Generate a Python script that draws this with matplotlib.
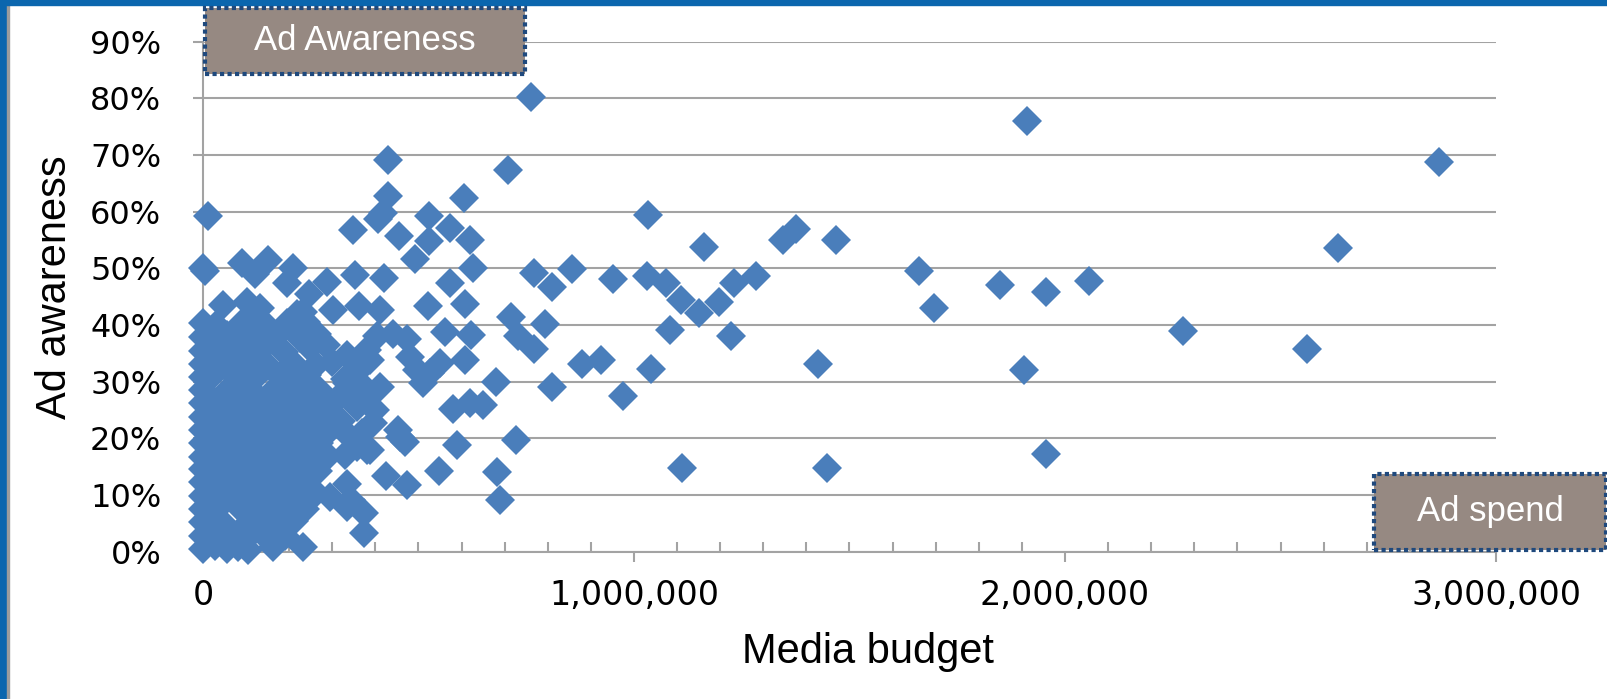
import numpy as np
import matplotlib.pyplot as plt
from matplotlib.patches import Rectangle
from matplotlib.ticker import FuncFormatter

# media budget in thousands, ad awareness in percent
small_budget_k = [
    0, 28, 55, 82, 105, 162, 232,
    0, 25, 52, 80, 108, 135, 190,
    0, 48, 110, 158, 212,
    0, 30, 86, 133, 186, 236,
    0, 55, 104, 160, 214, 262,
    0, 26, 79, 131, 186, 241,
    0, 51, 106, 154, 209, 266,
    0, 31, 82, 129, 184, 239, 291,
    0, 54, 107, 161, 214, 268,
    0, 26, 79, 134, 187, 242, 296,
    0, 52, 104, 159, 211, 266,
    0, 29, 84, 136, 191, 243, 292,
    0, 56, 109, 162, 217, 268,
    0, 24, 76, 131, 183, 241,
    0, 49, 102, 151, 209, 262,
    0, 27, 81, 136, 189, 248,
    0, 56, 116, 171, 226,
    0, 31, 92, 148, 196,
    12, 0, 5,
]
small_aware_pct = [
    0.5, 1.0, 0.4, 0.8, 0.3, 0.8, 0.9,
    2.8, 3.1, 2.6, 3.2, 2.9, 3.4, 2.7,
    5.2, 4.9, 5.3, 5.0, 5.4,
    7.6, 7.4, 7.8, 7.2, 7.7, 7.5,
    9.8, 10.2, 9.7, 10.1, 9.9, 10.4,
    12.3, 12.1, 12.4, 11.8, 12.2, 12.5,
    14.6, 14.3, 14.8, 14.4, 14.7, 14.2,
    16.8, 17.1, 16.9, 17.3, 16.7, 17.2, 16.9,
    19.2, 19.0, 19.4, 18.8, 19.3, 19.1,
    21.4, 21.7, 21.3, 21.8, 21.5, 21.2, 21.6,
    23.8, 24.1, 23.7, 24.2, 23.9, 24.3,
    26.2, 26.0, 26.4, 25.9, 26.3, 26.1, 25.8,
    28.6, 28.4, 28.8, 28.3, 28.7, 28.5,
    30.9, 31.2, 30.8, 31.3, 30.7, 31.1,
    33.2, 33.0, 33.4, 32.8, 33.3, 32.9,
    35.4, 35.7, 35.3, 35.8, 35.2, 36.0,
    37.9, 38.2, 37.7, 38.3, 37.8,
    40.3, 40.0, 40.6, 39.8, 40.4,
    59.2, 50.0, 49.5,
]

mid_budget_k = [
    90, 151, 121, 209, 195, 288, 46, 102, 132, 114,
    218, 232, 302, 411, 473, 441, 404, 381, 334, 357,
    387, 480, 497, 510, 527, 550, 619, 295, 334, 381,
    357, 394, 341, 387, 357, 300, 310, 285, 265, 245,
    238, 330, 320, 345, 370, 400, 410, 330, 334, 457,
    380,
]
mid_aware_pct = [
    51.0, 51.5, 49.0, 50.0, 47.5, 47.6, 43.5, 44.0, 43.0, 41.2,
    42.0, 42.3, 42.6, 42.6, 37.6, 38.5, 38.0, 35.6, 34.7, 31.7,
    33.9, 34.4, 32.1, 29.8, 31.6, 33.3, 26.3, 9.7, 29.8, 28.6,
    25.6, 22.7, 20.3, 17.9, 18.5, 33.5, 27.0, 36.5, 38.5, 45.5,
    40.6, 30.4, 23.0, 27.0, 21.0, 25.0, 29.0, 17.0, 7.9, 20.2,
    18.0,
]

large_budget_k = [
    2867, 2633, 2562, 2274, 2055, 1955, 1957, 1905, 1850, 1912,
    1695, 1662, 1448, 1426, 1469, 1376, 1345, 1283, 1233, 1226,
    1198, 1162, 1150, 1110, 1112, 1074, 1083, 1033, 1031, 1040,
    974, 952, 924, 879, 857, 810, 810, 793, 769, 767,
    760, 707, 731, 714, 726, 690, 683, 679, 650, 626,
    619, 605, 621, 607, 607, 590, 574, 574, 579, 562,
    548, 524, 521, 524, 493, 455, 429, 429, 417, 405,
    419, 348, 352, 362, 424, 474, 469, 452, 374, 374,
    343, 333,
]
large_aware_pct = [
    68.7, 53.6, 35.7, 39.0, 47.7, 45.9, 17.3, 32.1, 47.0, 76.0,
    43.0, 49.5, 14.8, 33.2, 55.0, 57.0, 55.0, 48.6, 47.4, 38.1,
    44.1, 53.7, 42.1, 44.4, 14.8, 47.5, 39.2, 59.4, 48.6, 32.2,
    27.5, 48.1, 33.9, 33.2, 49.9, 29.1, 46.8, 40.1, 35.7, 49.2,
    80.3, 67.4, 38.1, 41.5, 19.7, 9.1, 14.0, 29.9, 25.9, 50.1,
    55.0, 62.5, 38.3, 43.7, 33.9, 18.8, 47.4, 57.2, 25.1, 38.8,
    14.2, 59.2, 43.4, 54.8, 51.7, 55.7, 69.2, 62.8, 59.7, 58.7,
    48.3, 56.8, 48.8, 43.4, 13.3, 11.8, 19.3, 21.5, 3.3, 6.9,
    9.1, 12.0,
]

budget = np.array(small_budget_k + mid_budget_k + large_budget_k) * 1000
awareness = np.array(small_aware_pct + mid_aware_pct + large_aware_pct) / 100

grey = '#A3A3A3'
marker_blue = '#4A7EBB'

fig = plt.figure(figsize=(16.08, 6.99), dpi=100)
ax = fig.add_axes([203 / 1608, 0.2107, 1293 / 1608, 0.7296])

ax.plot(budget, awareness, linestyle='none', marker='D', markersize=15.5,
        color=marker_blue, markeredgewidth=0, zorder=3, clip_on=False)

ax.set_xlim(0, 3000000)
ax.set_ylim(0, 0.9)

ax.set_xticks([0, 1000000, 2000000, 3000000])
ax.set_xticks(np.arange(100000, 3000000, 100000), minor=True)
ax.set_yticks(np.arange(0, 0.91, 0.1))
ax.xaxis.set_major_formatter(FuncFormatter(lambda v, p: f'{v:,.0f}'))
ax.yaxis.set_major_formatter(FuncFormatter(lambda v, p: f'{v*100:.0f}%'))

ax.grid(axis='y', color=grey, linewidth=1.5, zorder=0)
ax.set_axisbelow(True)
for side in ['top', 'right']:
    ax.spines[side].set_visible(False)
for side in ['left', 'bottom']:
    ax.spines[side].set_color(grey)
    ax.spines[side].set_linewidth(1.5)

ax.tick_params(axis='both', which='major', direction='out', length=7,
               width=1.5, color=grey)
ax.tick_params(axis='x', which='minor', direction='in', length=7,
               width=1.5, color=grey)
ax.tick_params(axis='y', pad=23, labelsize=23)
ax.tick_params(axis='x', pad=13, labelsize=24)
for lab in ax.get_xticklabels() + ax.get_yticklabels():
    lab.set_fontfamily('DejaVu Sans')

fig.text(0.034, 0.589, 'Ad awareness', rotation=90, ha='center', va='center',
         fontsize=30, family='Liberation Sans')
fig.text(0.540, 0.067, 'Media budget', ha='center', va='center',
         fontsize=30, family='Liberation Sans')

# frame strips on the left and top
fig.patches.append(Rectangle((0, 0), 7 / 1608, 1, transform=fig.transFigure,
                             color='#0B66AE', zorder=10))
fig.patches.append(Rectangle((7 / 1608, 0), 2 / 1608, 1, transform=fig.transFigure,
                             color='#9C9C9C', zorder=10))
fig.patches.append(Rectangle((0, 1 - 5 / 699), 1, 5 / 699, transform=fig.transFigure,
                             color='#0B66AE', zorder=10))

# caption boxes
box_fill = '#968982'
box_edge = '#1F497D'
for (x0, y0, w, h), label in [((205, 8, 320, 66), 'Ad Awareness'),
                              ((1374, 474, 232, 76), 'Ad spend')]:
    fig.patches.append(Rectangle((x0 / 1608, 1 - (y0 + h) / 699), w / 1608, h / 699,
                                 transform=fig.transFigure, facecolor=box_fill,
                                 edgecolor=box_edge, linewidth=3,
                                 linestyle=(0, (1.0, 0.8)), zorder=11))
    fig.text((x0 + w / 2) / 1608, 1 - (y0 + h / 2) / 699, label, color='white',
             ha='center', va='center', fontsize=25, family='Liberation Sans',
             zorder=12)

fig.savefig('out.png', dpi=100)
